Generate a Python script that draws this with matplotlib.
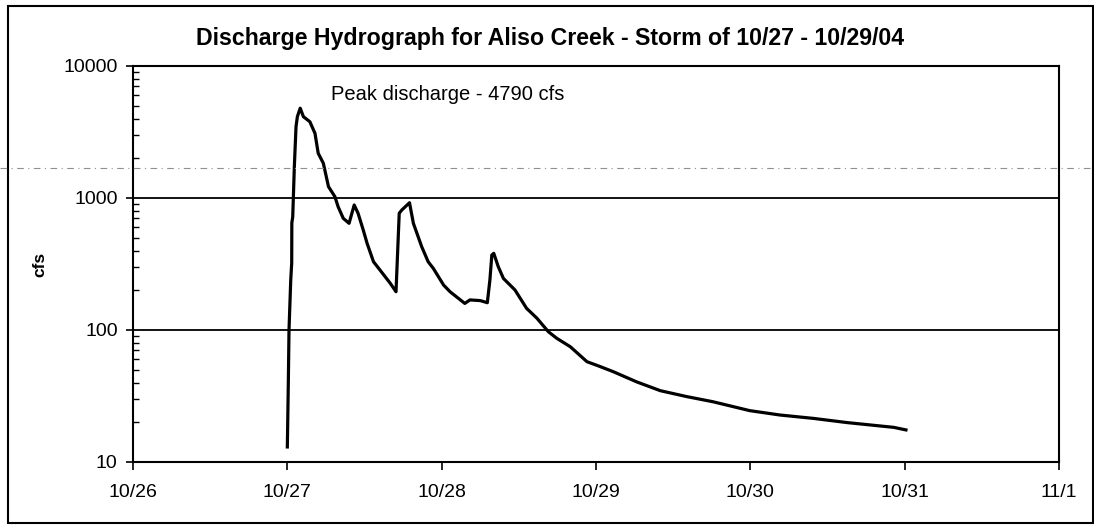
import numpy as np
import pandas as pd
import matplotlib
matplotlib.use('Agg')
import matplotlib.pyplot as plt
import matplotlib.dates as mdates
from matplotlib.ticker import FuncFormatter, LogLocator, FixedLocator
from matplotlib.lines import Line2D
from matplotlib.patches import Rectangle

plt.rcParams['font.family'] = ['Liberation Sans', 'DejaVu Sans']

# hours after 10/27/2004 00:00, discharge in cfs
hours = [0.0, 0.05, 0.16, 0.26, 0.53, 0.68, 0.7, 0.84, 1.09, 1.35, 1.56, 2.0,
         2.5, 3.5, 4.3, 4.8, 5.6, 6.4, 7.4, 7.9, 8.7, 9.6, 10.4, 11.0, 11.8,
         12.4, 13.4, 14.4, 16.0, 16.9, 17.4, 17.8, 19.0, 19.6, 20.9, 21.9,
         22.7, 24.3, 25.3, 27.6, 28.4, 30.0, 31.1, 31.5, 31.8, 32.1, 32.8,
         33.6, 35.4, 37.2, 38.8, 40.6, 41.9, 44.0, 46.6, 48.4, 50.7, 54.3,
         58.0, 62.1, 66.2, 71.9, 76.6, 81.8, 87.0, 94.3, 96.2]
cfs = [13, 18.5, 42, 100, 239, 322, 647, 721, 1726, 3467, 4130, 4790,
       4130, 3785, 3090, 2183, 1832, 1219, 1023, 858, 701, 643, 885, 766, 573,
       454, 329, 285, 226, 195, 766, 811, 921, 643, 427, 329,
       293, 219, 195, 159, 169, 167, 161, 239, 370, 381, 302,
       246, 201, 146, 123, 97, 86.5, 74.7, 57.5, 53.4, 48.3, 40.5,
       34.7, 31.3, 28.6, 24.5, 22.7, 21.4, 19.9, 18.3, 17.5]

start = pd.Timestamp('2004-10-27')
times = [start + pd.Timedelta(hours=h) for h in hours]
tick_days = pd.date_range('2004-10-26', '2004-11-01', freq='D')
title = 'Discharge Hydrograph for Aliso Creek - Storm of 10/27 - 10/29/04'
note = 'Peak discharge - 4790 cfs'

W, H = 1094, 525
fig = plt.figure(figsize=(W / 100, H / 100), dpi=100)
fig.patch.set_facecolor('white')

# outer frame of the scanned chart
fig.add_artist(Rectangle((8 / W, 2 / H), (W - 9) / W, (H - 8) / H,
                         transform=fig.transFigure, fill=False,
                         edgecolor='black', linewidth=1.5))
# faint scan streak across the page
fig.add_artist(Line2D([0, 1], [1 - 168 / H, 1 - 168 / H], transform=fig.transFigure,
                      color='#909090', linewidth=0.8, linestyle=(0, (6, 4, 1, 4))))

ax = fig.add_axes([133 / W, 1 - 462 / H, (1059 - 133) / W, (462 - 66) / H])
ax.plot(times, cfs, color='black', linewidth=2.3, solid_joinstyle='round')

ax.set_yscale('log')
ax.set_ylim(10, 10000)
ax.set_xlim(tick_days[0], tick_days[-1])

ax.yaxis.set_major_locator(FixedLocator([10, 100, 1000, 10000]))
ax.yaxis.set_major_formatter(FuncFormatter(lambda v, p: f'{int(round(v))}'))
ax.yaxis.set_minor_locator(LogLocator(base=10, subs=np.arange(2, 10)))
ax.yaxis.set_minor_formatter(FuncFormatter(lambda v, p: ''))
ax.set_xticks(tick_days)
ax.xaxis.set_major_formatter(FuncFormatter(
    lambda v, p: f'{mdates.num2date(v).month}/{mdates.num2date(v).day}'))

ax.tick_params(axis='y', which='major', direction='out', length=5, width=1.2,
               labelsize=14, pad=6)
ax.tick_params(axis='y', which='minor', direction='in', length=4, width=1)
ax.tick_params(axis='x', which='major', direction='out', length=6, width=1.2,
               labelsize=14, pad=10)

for v in [100, 1000]:
    ax.axhline(v, color='black', linewidth=1.3, zorder=1)
for s in ax.spines.values():
    s.set_linewidth(1.5)
    s.set_color('black')

fig.text(40 / W, 1 - 264 / H, 'cfs', fontsize=12.5, fontweight='bold',
         rotation=90, ha='center', va='center')
fig.text(331 / W, 1 - 94 / H, note, fontsize=14.5, ha='left', va='center')
fig.text(550 / W, 1 - 39 / H, title, fontsize=16.7, fontweight='bold',
         ha='center', va='center')

fig.savefig('out.png', dpi=100)
